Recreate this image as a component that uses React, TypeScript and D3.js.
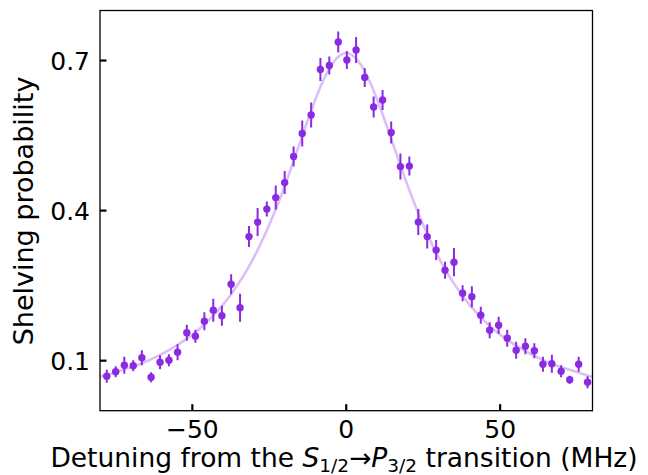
import React from "react";
import * as d3 from "d3";

const detuning = [-77.8, -74.9, -72.1, -69.2, -66.4, -63.4, -60.5, -57.6, -54.8, -51.8, -49.0, -46.1, -43.2, -40.4, -37.4, -34.5, -31.6, -28.8, -25.8, -22.9, -20.0, -17.1, -14.3, -11.4, -8.4, -5.5, -2.6, 0.2, 3.2, 6.0, 8.9, 11.8, 14.6, 17.6, 20.5, 23.4, 26.3, 29.2, 32.1, 35.0, 37.8, 40.8, 43.7, 46.6, 49.5, 52.3, 55.2, 58.2, 61.1, 63.9, 66.8, 69.8, 72.6, 75.5, 78.4];
const shelving = [0.069, 0.078, 0.091, 0.090, 0.106, 0.067, 0.097, 0.101, 0.117, 0.156, 0.149, 0.179, 0.201, 0.190, 0.253, 0.206, 0.348, 0.377, 0.403, 0.426, 0.456, 0.508, 0.554, 0.591, 0.682, 0.690, 0.737, 0.701, 0.721, 0.666, 0.607, 0.621, 0.556, 0.488, 0.489, 0.377, 0.348, 0.321, 0.281, 0.297, 0.235, 0.228, 0.191, 0.161, 0.171, 0.145, 0.121, 0.129, 0.120, 0.093, 0.094, 0.079, 0.062, 0.093, 0.057];
const shelvingErr = [0.013, 0.011, 0.017, 0.011, 0.015, 0.010, 0.014, 0.012, 0.016, 0.016, 0.013, 0.018, 0.023, 0.020, 0.020, 0.028, 0.021, 0.028, 0.015, 0.024, 0.023, 0.020, 0.026, 0.025, 0.023, 0.018, 0.021, 0.018, 0.026, 0.019, 0.021, 0.020, 0.022, 0.026, 0.019, 0.026, 0.024, 0.020, 0.017, 0.028, 0.016, 0.021, 0.017, 0.016, 0.017, 0.017, 0.017, 0.016, 0.015, 0.015, 0.018, 0.012, 0.008, 0.015, 0.012];

const fitX = [-80, -76, -72, -68, -64, -60, -56, -52, -48, -44, -40, -36, -32, -28, -24, -20, -16, -12, -8, -4, 0, 4, 8, 12, 16, 20, 24, 28, 32, 36, 40, 44, 48, 52, 56, 60, 64, 68, 72, 76, 80];
const fitY = [0.068, 0.075, 0.083, 0.091, 0.101, 0.113, 0.127, 0.143, 0.162, 0.185, 0.212, 0.245, 0.284, 0.331, 0.386, 0.449, 0.519, 0.589, 0.653, 0.698, 0.715, 0.698, 0.653, 0.589, 0.519, 0.449, 0.386, 0.331, 0.284, 0.245, 0.212, 0.185, 0.162, 0.143, 0.127, 0.113, 0.101, 0.091, 0.083, 0.075, 0.068];

const xTicks = [-50, 0, 50];
const yTicks = [0.1, 0.4, 0.7];

const W = 648, H = 475;
const L = 100, R = 592.5, T = 10.5, B = 410.7;
const FONT = "DejaVu Sans";
const PURPLE = "#8a2be2";
const FITCOL = "#dcbff6";

export default function App() {
  const x = d3.scaleLinear().domain([-80, 80]).range([L, R]);
  const y = d3.scaleLinear().domain([0, 0.8]).range([B, T]);
  const line = d3.line<number>().x((_, i) => x(fitX[i])).y((d) => y(d)).curve(d3.curveMonotoneX);
  const fmtX = (v: number) => (v < 0 ? "\u2212" + Math.abs(v) : String(v));

  return (
    <svg width={W} height={H} style={{ position: "absolute", left: 0, top: 0, background: "#fff" }} fontFamily={FONT}>
      <defs>
        <clipPath id="plotclip">
          <rect x={L} y={T} width={R - L} height={B - T} />
        </clipPath>
      </defs>
      <g clipPath="url(#plotclip)">
        <path d={line(fitY) || ""} fill="none" stroke={FITCOL} strokeWidth={2.6} />
        {detuning.map((d, i) => (
          <line key={"e" + i} x1={x(d)} x2={x(d)} y1={y(shelving[i] - shelvingErr[i])} y2={y(shelving[i] + shelvingErr[i])} stroke={PURPLE} strokeWidth={2} />
        ))}
        {detuning.map((d, i) => (
          <circle key={"p" + i} cx={x(d)} cy={y(shelving[i])} r={3.7} fill={PURPLE} />
        ))}
      </g>
      <rect x={L} y={T} width={R - L} height={B - T} fill="none" stroke="#000" strokeWidth={1.3} />
      {xTicks.map((t) => (
        <g key={"xt" + t}>
          <line x1={x(t)} x2={x(t)} y1={B} y2={B - 6.5} stroke="#000" strokeWidth={2.2} />
          <text x={x(t)} y={438} fontSize={25} textAnchor="middle" fill="#000">{fmtX(t)}</text>
        </g>
      ))}
      {yTicks.map((t) => (
        <g key={"yt" + t}>
          <line x1={L} x2={L + 6.5} y1={y(t)} y2={y(t)} stroke="#000" strokeWidth={2.2} />
          <text x={90} y={y(t)} dy="0.36em" fontSize={25} textAnchor="end" fill="#000">{t.toFixed(1)}</text>
        </g>
      ))}
      <text x={344} y={467} fontSize={26.5} textAnchor="middle" fill="#000">
        Detuning from the <tspan fontStyle="italic">S</tspan>
        <tspan fontSize={18.5} dy={5}>1/2</tspan>
        <tspan dy={-5}>{"\u2192"}</tspan>
        <tspan fontStyle="italic">P</tspan>
        <tspan fontSize={18.5} dy={5}>3/2</tspan>
        <tspan dy={-5}> transition (MHz)</tspan>
      </text>
      <text transform="translate(33,211) rotate(-90)" fontSize={27} textAnchor="middle" fill="#000">Shelving probability</text>
    </svg>
  );
}
